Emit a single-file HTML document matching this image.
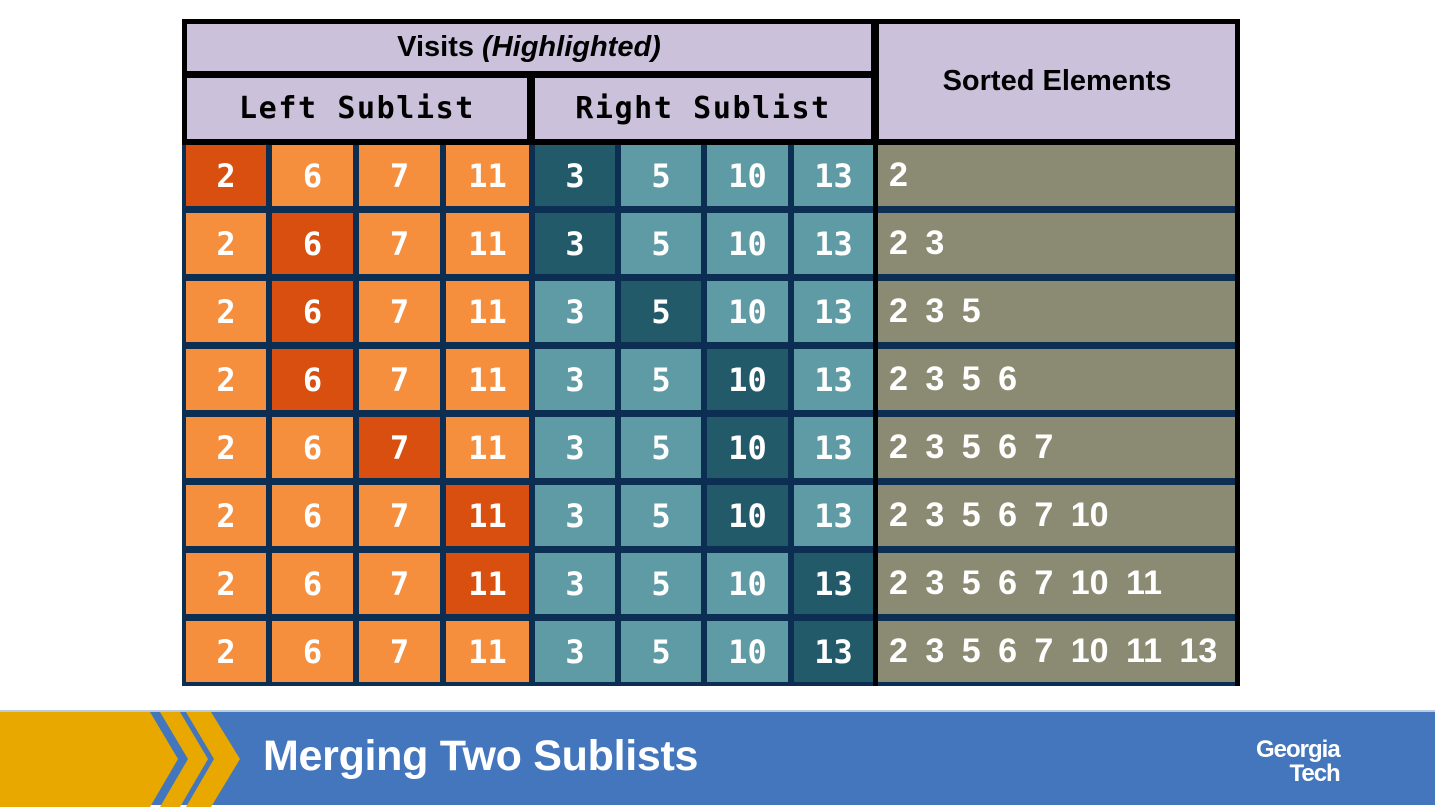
<!DOCTYPE html>
<html><head><meta charset="utf-8"><style>
body{margin:0;width:1435px;height:805px;background:#fff;position:relative;overflow:hidden;font-family:"Liberation Sans",sans-serif}
.a{position:absolute;box-sizing:border-box}
.c{display:flex;align-items:center;justify-content:center;color:#fff;font-family:"DejaVu Sans Mono","Liberation Mono",monospace;font-weight:bold;font-size:32px}
.h{display:flex;align-items:center;justify-content:center;background:#cbc1da;color:#000;font-weight:bold}
</style></head><body>
<div class="a" style="left:182px;top:19px;width:1058px;height:667px;background:#0b2e52"></div>
<div class="a" style="left:182px;top:19px;width:1058px;height:126px;background:#000"></div>
<div class="a h" style="left:187px;top:24px;width:684px;height:47px;font-size:29px">Visits&nbsp;<i>(Highlighted)</i></div>
<div class="a h" style="left:187px;top:78px;width:340px;height:61px;font-family:'DejaVu Sans Mono','Liberation Mono',monospace;font-size:30px;letter-spacing:1.6px">Left Sublist</div>
<div class="a h" style="left:535px;top:78px;width:336px;height:61px;font-family:'DejaVu Sans Mono','Liberation Mono',monospace;font-size:30px;letter-spacing:1.6px">Right Sublist</div>
<div class="a h" style="left:879px;top:24px;width:356px;height:115px;font-size:29px">Sorted Elements</div>
<div id="grid"></div>
<div class="a" style="left:0;top:710px;width:1435px;height:95px;background:#4376bd;border-top:2px solid #b8cbe0">
<svg class="a" style="left:0;top:0" width="260" height="95">
<polygon points="0,0 150,0 178,47 150,95 0,95" fill="#e8a800"/>
<polygon points="160,0 180,0 208,47 180,95 160,95 188,47" fill="#e8a800"/>
<polygon points="186,0 211,0 240,47 211,95 186,95 214,47" fill="#e8a800"/>
</svg>
<div class="a" style="left:263px;top:20px;color:#fff;font-weight:bold;font-size:43px;letter-spacing:-0.3px">Merging Two Sublists</div>
<div class="a" style="left:1256px;top:26px;color:#fff;font-weight:bold;font-size:24px;line-height:24px;text-align:right;letter-spacing:-1px">Georgia<br>Tech</div>
</div>
<script>
const leftVals=[2,6,7,11];
const rightVals=[3,5,10,13];
const leftHi=[0,1,1,1,2,3,3,-1];
const rightHi=[0,0,1,2,2,2,3,3];
const sortedSeq=[2,3,5,6,7,10,11,13];
const xs=[182,268,355,442,531,617,703,790,875,1239];
const g=document.getElementById('grid');
const y0=141,rh=68;
for(let r=0;r<leftHi.length;r++){
  const y=y0+r*rh;
  for(let k=0;k<8;k++){
    const isL=k<4,i=isL?k:k-4;
    const hi=isL?leftHi[r]===i:rightHi[r]===i;
    const d=document.createElement('div');
    d.className='a c';
    
    
    const bg=isL?(hi?'#d84f10':'#f68f3d'):(hi?'#235a69':'#5f9ba4');
    d.style.cssText=`left:${xs[k]+4}px;top:${y+4}px;width:${xs[k+1]-xs[k]-6}px;height:${rh-7}px;background:${bg}`;
    d.textContent=isL?leftVals[i]:rightVals[i];
    g.appendChild(d);
  }
  const s=document.createElement('div');
  s.className='a';
  
  
  s.style.cssText=`left:${xs[8]+3}px;top:${y+4}px;width:${xs[9]-xs[8]-7}px;height:${rh-7}px;background:#8b8a72;color:#fff;font-family:'Liberation Sans',Arial,sans-serif;font-weight:bold;font-size:34px;display:flex;align-items:center;padding-left:11px;word-spacing:8px;white-space:pre;overflow:hidden`;
  s.textContent=sortedSeq.slice(0,r+1).join(' ');
  g.appendChild(s);
}
const vl=document.createElement('div');
vl.className='a';


vl.style.cssText='left:873px;top:19px;width:5px;height:667px;background:#000';
g.appendChild(vl);
const vr=document.createElement('div');
vr.className='a';


vr.style.cssText='left:1235px;top:19px;width:5px;height:667px;background:#000';
g.appendChild(vr);
</script>
</body></html>
